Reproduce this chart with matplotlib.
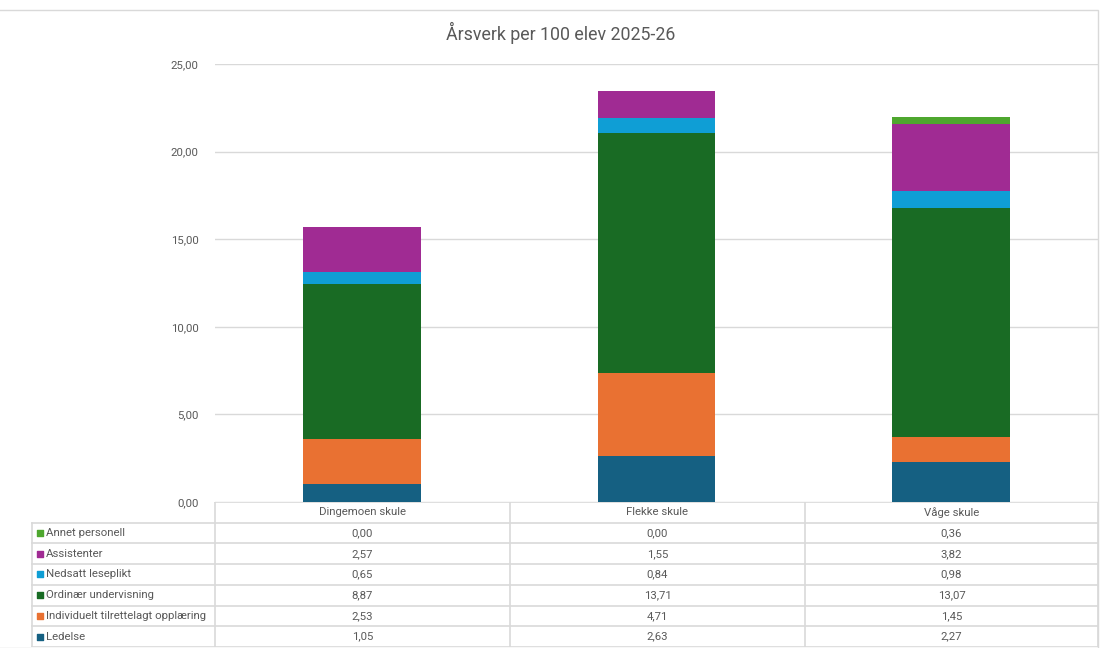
import matplotlib.pyplot as plt
import numpy as np

# data
schools = ['Dingemoen skule', 'Flekke skule', 'Våge skule']
categories = ['Ledelse', 'Individuelt tilrettelagt opplæring', 'Ordinær undervisning',
              'Nedsatt leseplikt', 'Assistenter', 'Annet personell']
ledelse = [1.05, 2.63, 2.27]
individuelt = [2.53, 4.71, 1.45]
ordinaer = [8.87, 13.71, 13.07]
nedsatt = [0.65, 0.84, 0.98]
assistenter = [2.57, 1.55, 3.82]
annet = [0.00, 0.00, 0.36]
series = [ledelse, individuelt, ordinaer, nedsatt, assistenter, annet]
colors = ['#156082', '#E97132', '#196B24', '#0F9ED5', '#A02B93', '#4EA72E']
yticks = [0, 5, 10, 15, 20, 25]

plt.rcParams['font.family'] = ['Roboto', 'DejaVu Sans']
txt = '#595959'
grid = '#D9D9D9'
fs = 8.2

W, H = 1102, 648
fig = plt.figure(figsize=(W / 100, H / 100), dpi=100)

def box(x0, y0, x1, y1):
    # pixel box (top-left origin) -> figure fraction rect
    return [x0 / W, 1 - y1 / H, (x1 - x0) / W, (y1 - y0) / H]

# outer chart border
fig.patches.append(plt.Rectangle((-0.01, 0.0), 1.006, 1 - 10 / H, transform=fig.transFigure,
                                 fill=False, edgecolor=grid, lw=1))

ax = fig.add_axes(box(215, 64, 1098, 502))
x = np.arange(len(schools))
bottom = np.zeros(len(schools))
for vals, c, name in zip(series, colors, categories):
    ax.bar(x, vals, 0.4, bottom=bottom, color=c, label=name, zorder=3)
    bottom += np.array(vals)
ax.set_xlim(-0.5, len(schools) - 0.5)
ax.set_ylim(0, 25)
ax.set_yticks(yticks)
ax.set_yticklabels([f'{v:.2f}'.replace('.', ',') for v in yticks], fontsize=fs, color=txt)
ax.tick_params(axis='y', length=0, pad=12)
ax.set_xticks([])
ax.grid(axis='y', color=grid, lw=1, zorder=0)
for s in ax.spines.values():
    s.set_visible(False)
fig.text(561 / W, 1 - 33 / H, 'Årsverk per 100 elev 2025-26', ha='center', va='center',
         fontsize=12.8, color=txt)

# data table below the chart
tb = fig.add_axes(box(30, 502, 1099, 647))
tb.set_xlim(30, 1099)
tb.set_ylim(647, 502)
tb.axis('off')
col_edges = [215, 510, 805, 1098]
row_h = 20.7
top = 502
tb.plot([215, 1098], [top, top], color=grid, lw=1.2)
for i in range(len(categories) + 1):
    y = top + row_h * (i + 1)
    tb.plot([32, 1098], [y, y], color=grid, lw=1.2)
for cx in col_edges:
    tb.plot([cx, cx], [top, top + row_h * 7], color=grid, lw=1.2)
tb.plot([32, 32], [top + row_h, top + row_h * 7], color=grid, lw=1.2)

for j, s in enumerate(schools):
    cx = (col_edges[j] + col_edges[j + 1]) / 2
    tb.text(cx, top + row_h / 2, s, ha='center', va='center', fontsize=fs, color=txt)

for r, (vals, c, name) in enumerate(zip(series[::-1], colors[::-1], categories[::-1])):
    yc = top + row_h * (r + 1.5)
    tb.scatter([40], [yc], marker='s', s=24, color=c)
    tb.text(46, yc, name, ha='left', va='center', fontsize=fs, color=txt)
    for j, v in enumerate(vals):
        cx = (col_edges[j] + col_edges[j + 1]) / 2
        tb.text(cx, yc, f'{v:.2f}'.replace('.', ','), ha='center', va='center',
                fontsize=fs, color=txt)

fig.savefig('out.png', dpi=100)
